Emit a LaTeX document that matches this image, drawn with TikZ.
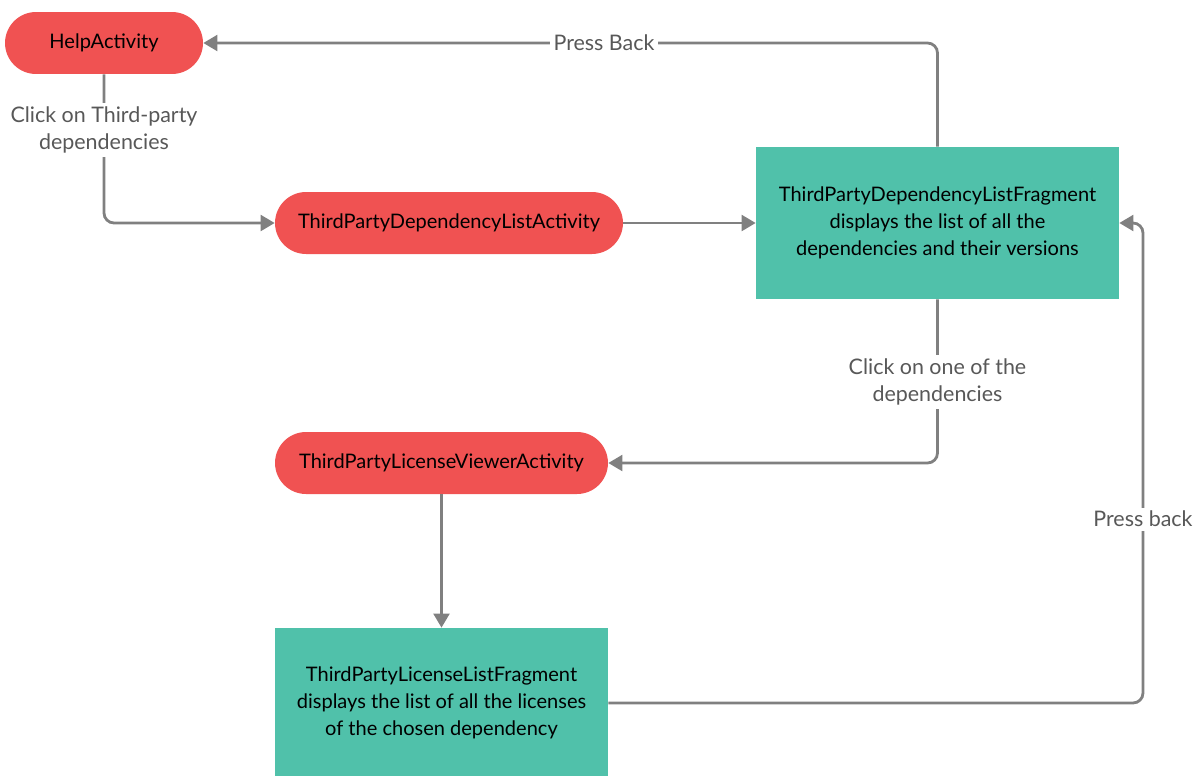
\documentclass[tikz,border=0pt]{standalone}
\usepackage{fontspec}
\setmainfont{Lato}
\usepackage{xcolor}
\usepackage{tikz}
\usetikzlibrary{positioning,arrows.meta}
\definecolor{ActRed}{RGB}{240,82,82}
\definecolor{FragTeal}{RGB}{80,193,170}
\definecolor{LinkGray}{RGB}{128,128,128}
\definecolor{LabelGray}{RGB}{88,88,88}
\tikzset{
    activity/.style={rectangle, rounded corners=0.62cm, fill=ActRed, minimum height=1.24cm, inner sep=0pt, font=\fontsize{11.4}{15.3}\selectfont},
    fragment/.style={rectangle, fill=FragTeal, align=center, inner sep=0pt, font=\fontsize{11.4}{15.3}\selectfont},
    link/.style={draw=LinkGray, line width=1.6pt, rounded corners=0.2cm, -{Triangle[length=8pt,width=9pt]}},
    linklabel/.style={fill=white, text=LabelGray, align=center, inner sep=2pt, font=\fontsize{12.2}{15.3}\selectfont}
}

\begin{document}
\begin{tikzpicture}[x=0.02cm, y=-0.02cm]
    % khung
    \useasboundingbox (0,0) rectangle (1201,775);

    % --- Activities ---
    \node[activity, minimum width=3.96cm] (help) at (104,43) {HelpActivity};
    \node[activity, minimum width=6.96cm] (deplist) at (449,223) {ThirdPartyDependencyListActivity};
    \node[activity, minimum width=6.66cm] (viewer) at (441.5,463) {ThirdPartyLicenseViewerActivity};

    % --- Fragments ---
    \node[fragment, minimum width=7.26cm, minimum height=3.04cm] (depfrag) at (937.5,223)
        {ThirdPartyDependencyListFragment\\displays the list of all the\\dependencies and their versions};
    \node[fragment, minimum width=6.66cm, minimum height=3.0cm] (licfrag) at (441.5,703)
        {ThirdPartyLicenseListFragment\\displays the list of all the licenses\\of the chosen dependency};

    % --- Connectors ---
    \draw[link] (help.south) -- (help.south |- deplist.west) -- (deplist.west);
    \node[linklabel] (clickhelp) at (104,130) {Click on Third-party\\dependencies};

    \draw[link] (deplist.east) -- (depfrag.west);

    \draw[link] (depfrag.north) -- (depfrag.north |- help.east) -- (help.east);
    \node[linklabel] (back1) at (604,43) {Press Back};

    \draw[link] (depfrag.south) -- (depfrag.south |- viewer.east) -- (viewer.east);
    \node[linklabel] (clickdep) at (937.5,382) {Click on one of the\\dependencies};

    \draw[link] (viewer.south) -- (licfrag.north);

    \coordinate (turn) at (1143,0);
    \draw[link] (licfrag.east) -- (turn |- licfrag.east) -- (turn |- depfrag.east) -- (depfrag.east);
    \node[linklabel] (back2) at (1143,519) {Press back};
\end{tikzpicture}
\end{document}
